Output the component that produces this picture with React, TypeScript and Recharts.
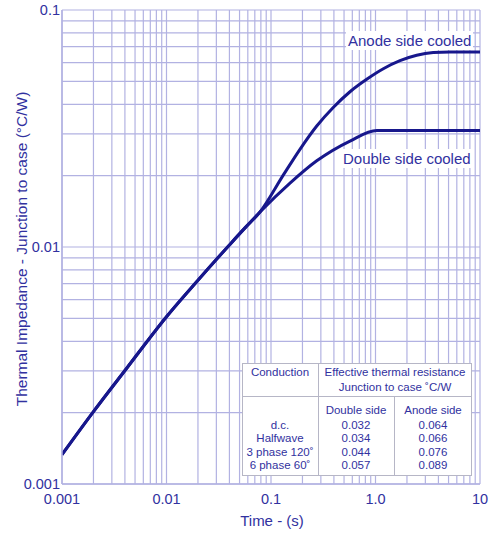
import React from 'react';
import { LineChart, Line, XAxis, YAxis, ReferenceLine } from 'recharts';

// ---- data ----
const commonTime = [0.001, 0.002, 0.00416, 0.01, 0.0201, 0.04, 0.0564, 0.0785];
const commonZth = [0.00133, 0.00202, 0.00308, 0.00508, 0.00726, 0.0102, 0.01204, 0.01405];

const anodeTime = [0.131, 0.19, 0.274, 0.394, 0.57, 0.824, 1.188, 1.715, 2.48, 3.57, 5.16, 10];
const anodeZth = [0.0201, 0.0259, 0.0324, 0.0388, 0.0452, 0.051, 0.0565, 0.0611, 0.0644, 0.0661, 0.0665, 0.0665];

const doubleTime = [0.152, 0.274, 0.57, 1.03, 10];
const doubleZth = [0.0186, 0.0231, 0.028, 0.031, 0.031];

const xTicks = [0.001, 0.01, 0.1, 1, 10];
const xTickLabels = ['0.001', '0.01', '0.1', '1.0', '10'];
const yTicks = [0.001, 0.01, 0.1];
const yTickLabels = ['0.001', '0.01', '0.1'];

const gridMultipliers = [1, 2, 3, 4, 5, 6, 7, 8, 9];
const xDecades = [0.001, 0.01, 0.1, 1];
const yDecades = [0.001, 0.01];

const conductionRows = ['d.c.', 'Halfwave', '3 phase 120\u02DA', '6 phase 60\u02DA'];
const doubleSideValues = [0.032, 0.034, 0.044, 0.057];
const anodeSideValues = [0.064, 0.066, 0.076, 0.089];

// ---- derived tables ----
const xGrid = [...xDecades.flatMap((d) => gridMultipliers.map((m) => +(m * d).toPrecision(6))), 10];
const yGrid = [...yDecades.flatMap((d) => gridMultipliers.map((m) => +(m * d).toPrecision(6))), 0.1];

const commonData = commonTime.map((x, i) => ({ x, y: commonZth[i] }));
const anodeData = [...commonData, ...anodeTime.map((x, i) => ({ x, y: anodeZth[i] }))];
const doubleData = [...commonData, ...doubleTime.map((x, i) => ({ x, y: doubleZth[i] }))];

const TEXT = '#3131a0';
const GRID = '#b2b2e2';
const CURVE = '#17178c';
const BORDER = '#b6b6c6';
const FONT = '"Liberation Sans", Arial, Helvetica, sans-serif';

const fmtX = (v: number) => xTickLabels[xTicks.findIndex((t) => Math.abs(t - v) < t * 1e-6)] ?? String(v);
const fmtY = (v: number) => yTickLabels[yTicks.findIndex((t) => Math.abs(t - v) < t * 1e-6)] ?? String(v);

const rowCenters = [425, 438.3, 451.6, 465];

const Cell = ({ left, width, cy, children }: { left: number; width: number; cy: number; children: React.ReactNode }) => (
  <div
    style={{
      position: 'absolute',
      left,
      width,
      top: cy - 7,
      height: 14,
      lineHeight: '14px',
      textAlign: 'center',
      fontSize: 11.5,
      color: TEXT,
      whiteSpace: 'nowrap',
    }}
  >
    {children}
  </div>
);

export default function App() {
  return (
    <div style={{ position: 'absolute', left: 0, top: 0, width: 493, height: 533, fontFamily: FONT, background: '#fff' }}>
      <LineChart width={493} height={533} margin={{ top: 10, right: 13, left: 0, bottom: 0 }}>
        <XAxis
          type="number"
          dataKey="x"
          scale="log"
          domain={[0.001, 10]}
          ticks={xTicks}
          tickFormatter={fmtX}
          allowDataOverflow
          height={49}
          tickLine={false}
          tickSize={6}
          tickMargin={4}
          axisLine={{ stroke: GRID, strokeWidth: 1.5 }}
          tick={{ fill: TEXT, fontSize: 14.5, fontFamily: FONT }}
          interval={0}
          label={() => (
            <text x={272} y={526} textAnchor="middle" fill={TEXT} fontSize={15} fontFamily={FONT}>
              Time - (s)
            </text>
          )}
        />
        <YAxis
          type="number"
          dataKey="y"
          scale="log"
          domain={[0.001, 0.1]}
          ticks={yTicks}
          tickFormatter={fmtY}
          allowDataOverflow
          width={62}
          tickLine={false}
          tickSize={0}
          tickMargin={2}
          axisLine={{ stroke: GRID, strokeWidth: 1.5 }}
          tick={{ fill: TEXT, fontSize: 14.5, fontFamily: FONT }}
          interval={0}
          label={() => (
            <text
              x={21}
              y={249}
              transform="rotate(-90, 21, 249)"
              textAnchor="middle"
              dominantBaseline="central"
              fill={TEXT}
              fontSize={15.5}
              fontFamily={FONT}
            >
              Thermal Impedance - Junction to case (°C/W)
            </text>
          )}
        />
        {xGrid.map((v) => (
          <ReferenceLine key={'vx' + v} x={v} stroke={GRID} strokeWidth={1.2} />
        ))}
        {yGrid.map((v) => (
          <ReferenceLine key={'hy' + v} y={v} stroke={GRID} strokeWidth={1.2} />
        ))}
        <Line
          data={anodeData}
          dataKey="y"
          type="monotone"
          stroke={CURVE}
          strokeWidth={3}
          dot={false}
          isAnimationActive={false}
        />
        <Line
          data={doubleData}
          dataKey="y"
          type="monotone"
          stroke={CURVE}
          strokeWidth={3}
          dot={false}
          isAnimationActive={false}
        />
      </LineChart>

      {/* curve labels */}
      <div
        style={{
          position: 'absolute',
          left: 346,
          top: 31,
          lineHeight: '19px',
          padding: '0 2px',
          fontSize: 15,
          color: TEXT,
          background: '#fff',
          whiteSpace: 'nowrap',
        }}
      >
        Anode side cooled
      </div>
      <div
        style={{
          position: 'absolute',
          left: 341,
          top: 149,
          lineHeight: '19px',
          padding: '0 2px',
          fontSize: 15,
          color: TEXT,
          background: '#fff',
          whiteSpace: 'nowrap',
        }}
      >
        Double side cooled
      </div>

      {/* resistance table */}
      <div
        style={{
          position: 'absolute',
          left: 242,
          top: 363,
          width: 230,
          height: 113,
          boxSizing: 'border-box',
          border: `1px solid ${BORDER}`,
          background: '#fff',
        }}
      />
      <div style={{ position: 'absolute', left: 318, top: 363, width: 1, height: 113, background: BORDER }} />
      <div style={{ position: 'absolute', left: 242, top: 396, width: 230, height: 1, background: BORDER }} />
      <div style={{ position: 'absolute', left: 394, top: 396, width: 1, height: 80, background: BORDER }} />

      <Cell left={242} width={76} cy={372}>Conduction</Cell>
      <Cell left={318} width={154} cy={372}>Effective thermal resistance</Cell>
      <Cell left={318} width={154} cy={387}>Junction to case ˚C/W</Cell>
      <Cell left={318} width={76} cy={410}>Double side</Cell>
      <Cell left={394} width={78} cy={410}>Anode side</Cell>
      {conductionRows.map((r, i) => (
        <Cell key={'c' + i} left={242} width={76} cy={rowCenters[i]}>{r}</Cell>
      ))}
      {doubleSideValues.map((v, i) => (
        <Cell key={'d' + i} left={318} width={76} cy={rowCenters[i]}>{v.toFixed(3)}</Cell>
      ))}
      {anodeSideValues.map((v, i) => (
        <Cell key={'a' + i} left={394} width={78} cy={rowCenters[i]}>{v.toFixed(3)}</Cell>
      ))}
    </div>
  );
}
